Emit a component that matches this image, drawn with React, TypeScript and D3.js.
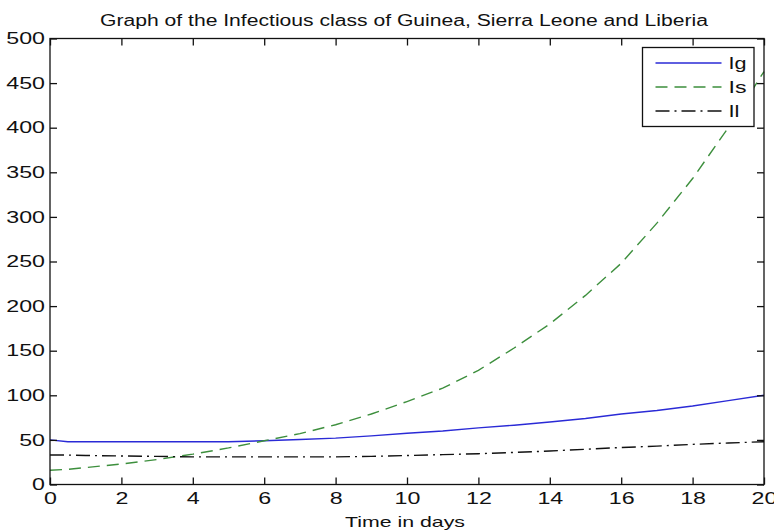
import React, { useEffect, useRef } from 'react';
import * as d3 from 'd3';

// days sampled from the solver output
const days = [0, 0.5, 1, 2, 3, 4, 5, 6, 7, 8, 9, 10, 11, 12, 13, 14, 15, 16, 17, 18, 19, 20];
const infectedGuinea = [50, 48, 48, 48, 48, 48, 48, 49, 50.5, 52, 54.5, 57.5, 60, 63.5, 66.5, 70, 74, 79, 83, 88, 94, 100];
const infectedSierra = [16, 17, 19, 23, 28, 34, 41, 49, 57, 67, 79, 93, 108, 128, 153, 180, 212, 248, 293, 343, 400, 463];
const infectedLiberia = [33, 33, 32.5, 32, 31.5, 31, 31, 31, 31, 31, 31.5, 32.5, 33.5, 34.5, 36, 37.5, 39.5, 41.5, 43, 45, 46.5, 48];

const seriesNames = ['Ig', 'Is', 'Il'];
const seriesColors = ['#2a2ad6', '#3d8f3d', '#111111'];
const seriesDashes = ['none', '12,7', '14,5,2,5'];
const xTicks = [0, 2, 4, 6, 8, 10, 12, 14, 16, 18, 20];
const yTicks = [0, 50, 100, 150, 200, 250, 300, 350, 400, 450, 500];

const width = 774;
const height = 531;
const margin = { left: 50, right: 10, top: 38.5, bottom: 46.5 };
const font = '"Liberation Sans", Arial, sans-serif';
const stretch = 1.45;

function stretchTexts(sel: any) {
    sel.selectAll('text').each(function (this: any) {
        const w = this.getComputedTextLength();
        d3.select(this).attr('textLength', w * stretch).attr('lengthAdjust', 'spacingAndGlyphs');
    });
}

export default function App() {
    const chartArea = useRef<SVGGElement>(null);
    const xAxis = useRef<SVGGElement>(null);
    const xAxisTop = useRef<SVGGElement>(null);
    const yAxis = useRef<SVGGElement>(null);
    const yAxisRight = useRef<SVGGElement>(null);

    const drawWidth = width - margin.left - margin.right;
    const drawHeight = height - margin.top - margin.bottom;

    const xScale = d3.scaleLinear().domain([0, 20]).range([0, drawWidth]);
    const yScale = d3.scaleLinear().domain([0, 500]).range([drawHeight, 0]);

    useEffect(() => {
        const series = [infectedGuinea, infectedSierra, infectedLiberia];
        const line = d3.line<number>()
            .x((_, i) => xScale(days[i]))
            .y((d) => yScale(d));

        const paths = d3.select(chartArea.current).selectAll('path').data(series);
        paths.enter().append('path')
            .merge(paths as any)
            .attr('fill', 'none')
            .attr('stroke', (_, i) => seriesColors[i])
            .attr('stroke-width', 1.4)
            .attr('stroke-dasharray', (_, i) => seriesDashes[i])
            .attr('d', (d) => line(d));

        const styleAxis = (g: any) => {
            g.select('.domain').remove();
            g.selectAll('line').attr('stroke', '#111').attr('stroke-width', 1.3);
            g.selectAll('text').attr('fill', '#111').style('font-family', font).style('font-size', '16px');
        };

        d3.select(xAxis.current)
            .call(d3.axisBottom(xScale).tickValues(xTicks).tickSizeInner(-7).tickSizeOuter(0).tickPadding(8).tickFormat(d3.format('d')) as any)
            .call(styleAxis)
            .call(stretchTexts);
        d3.select(xAxisTop.current)
            .call(d3.axisTop(xScale).tickValues(xTicks).tickSizeInner(-7).tickSizeOuter(0).tickFormat(() => '') as any)
            .call(styleAxis);
        d3.select(yAxis.current)
            .call(d3.axisLeft(yScale).tickValues(yTicks).tickSizeInner(-7).tickSizeOuter(0).tickPadding(5).tickFormat(d3.format('d')) as any)
            .call(styleAxis)
            .call(stretchTexts);
        d3.select(yAxisRight.current)
            .call(d3.axisRight(yScale).tickValues(yTicks).tickSizeInner(-7).tickSizeOuter(0).tickFormat(() => '') as any)
            .call(styleAxis);
    }, []);

    const legendX = 642.5 - margin.left;
    const legendY = 47.5 - margin.top;

    return (
        <svg width={width} height={height} style={{ position: 'absolute', left: 0, top: 0, background: '#fff' }}>
            <rect width={width} height={height} fill="#fff" />
            <text x={404} y={25.5} textAnchor="middle" fontFamily={font} fontSize={16} fill="#111"
                textLength={608} lengthAdjust="spacingAndGlyphs">
                Graph of the Infectious class of Guinea, Sierra Leone and Liberia
            </text>
            <g transform={`translate(${margin.left}, ${margin.top})`}>
                <g ref={chartArea} />
                <rect x={0} y={0} width={drawWidth} height={drawHeight} fill="none" stroke="#111" strokeWidth={1.3} />
                <g ref={xAxis} transform={`translate(0, ${drawHeight})`} />
                <g ref={xAxisTop} />
                <g ref={yAxis} />
                <g ref={yAxisRight} transform={`translate(${drawWidth}, 0)`} />

                {/* Legend */}
                <g transform={`translate(${legendX}, ${legendY})`}>
                    <rect x={0} y={0} width={111.5} height={79} fill="#fff" stroke="#111" strokeWidth={1.3} />
                    {seriesNames.map((name, i) => (
                        <g key={name} transform={`translate(0, ${15.5 + i * 24})`}>
                            <line x1={13} x2={79} y1={0} y2={0} stroke={seriesColors[i]} strokeWidth={1.4}
                                strokeDasharray={seriesDashes[i]} />
                            <text x={86} y={6} fontFamily={font} fontSize={17} fill="#111"
                                textLength={name === 'Il' ? 11 : 18} lengthAdjust="spacingAndGlyphs">{name}</text>
                        </g>
                    ))}
                </g>
            </g>
            <text x={405} y={527} textAnchor="middle" fontFamily={font} fontSize={15} fill="#111"
                textLength={120} lengthAdjust="spacingAndGlyphs">Time in days</text>
        </svg>
    );
}
